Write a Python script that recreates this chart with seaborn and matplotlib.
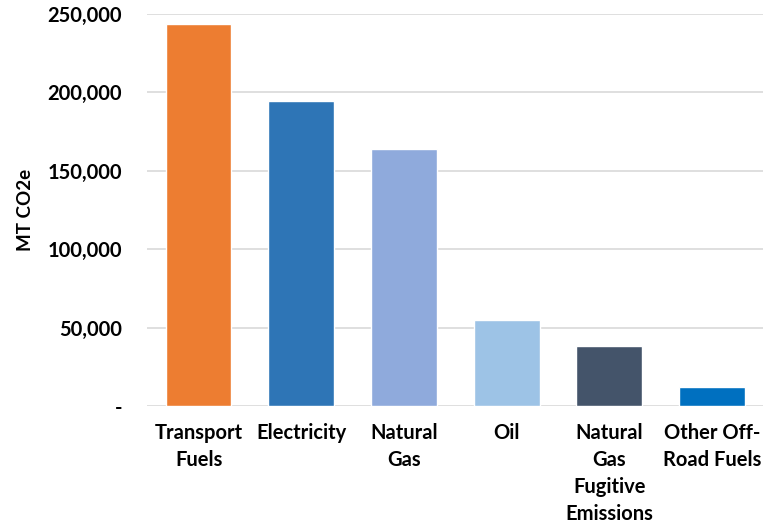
import matplotlib
matplotlib.use("Agg")
import matplotlib.pyplot as plt
import seaborn as sns
import pandas as pd
from matplotlib.ticker import FuncFormatter

# datos
categorias = ["Transport\nFuels", "Electricity", "Natural\nGas", "Oil",
              "Natural\nGas\nFugitive\nEmissions", "Other Off-\nRoad Fuels"]
valores = [243600, 194500, 163800, 54800, 38500, 12100]
colores = ["#ED7D31", "#2E75B6", "#8FAADC", "#9DC3E6", "#44546A", "#0070C0"]
yticks = [0, 50000, 100000, 150000, 200000, 250000]

sns.set_style("white")
plt.rcParams["font.family"] = ["Lato", "DejaVu Sans"]
plt.rcParams["font.weight"] = "bold"
plt.rcParams["text.color"] = "black"
plt.rcParams["xtick.color"] = "black"
plt.rcParams["ytick.color"] = "black"
plt.rcParams["axes.labelcolor"] = "black"

df = pd.DataFrame({"cat": categorias, "val": valores})

fig = plt.figure(figsize=(7.75, 5.31), dpi=100)
ax = fig.add_axes([0.19, 0.235, 0.795, 0.739])

sns.barplot(data=df, x="cat", y="val", hue="cat", palette=colores,
            width=0.64, legend=False, ax=ax, saturation=1)

ax.set_ylim(0, 250000)
ax.set_xlim(-0.5, 5.5)
ax.set_yticks(yticks)
ax.yaxis.set_major_formatter(FuncFormatter(lambda v, p: "-" if v == 0 else f"{int(v):,}"))
ax.grid(axis="y", color="#D9D9D9", linewidth=1.2)
ax.set_axisbelow(True)
for s in ax.spines.values():
    s.set_visible(False)

ax.tick_params(axis="both", length=0, labelsize=14.5, pad=12)
ax.tick_params(axis="y", pad=18)
for lab in ax.get_xticklabels():
    lab.set_va("top")
    lab.set_ha("center")
    lab.set_multialignment("center")
    lab.set_linespacing(1.45)
ax.set_xlabel("")
ax.set_ylabel("MT CO2e", fontsize=13.5, fontweight="bold", labelpad=10)

fig.savefig("out.png", dpi=100)
